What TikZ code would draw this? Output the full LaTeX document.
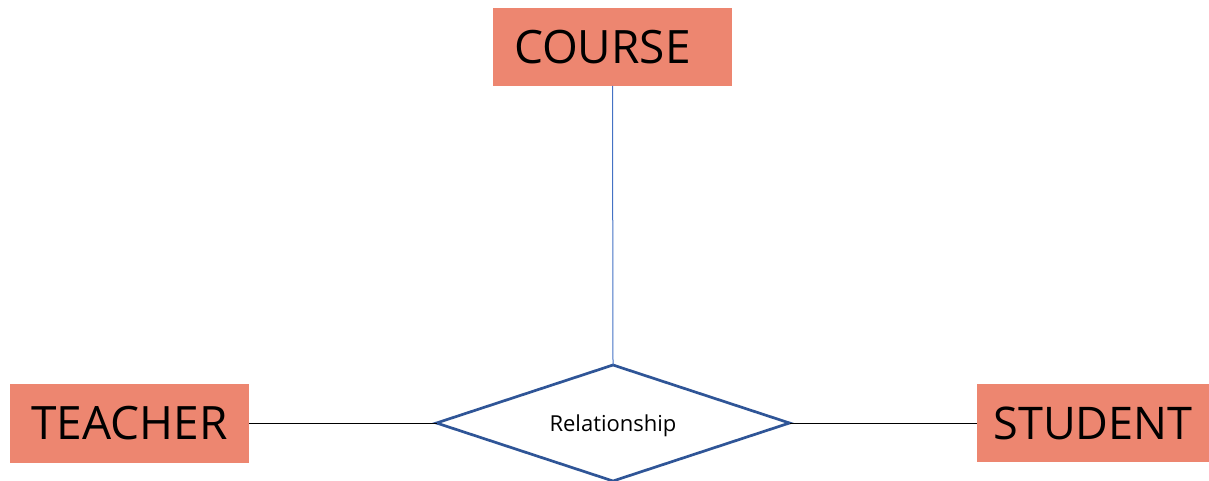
\documentclass[tikz,border=0pt]{standalone}
\usepackage{fontspec}
\setmainfont{Open Sans}
\usetikzlibrary{shapes.geometric}
\definecolor{salmon}{HTML}{ED8670}
\definecolor{dblue}{HTML}{2F5597}
\definecolor{lblue}{HTML}{4472C4}
\tikzset{
  entity/.style={fill=salmon, draw=none, inner sep=0pt, outer sep=0pt, font=\fontsize{46}{50}\selectfont},
  rel/.style={diamond, aspect=3.04, draw=dblue, line width=2.7pt, fill=white, inner sep=0pt, outer sep=0pt,
    minimum width=353pt, minimum height=116pt, text depth=0pt, font=\fontsize{22}{26}\selectfont},
  link/.style={line width=1pt, draw=black}
}
\begin{document}
\begin{tikzpicture}[x=1pt,y=-1pt]
\useasboundingbox (0,0) rectangle (1209,481);
\clip (0,0) rectangle (1209,481);
\node[entity, minimum width=239pt, minimum height=78pt, text width=197pt, align=left, inner xsep=21pt] (course) at (612.5,47) {COURSE};
\node[entity, minimum width=239pt, minimum height=79pt] (teacher) at (129.5,423) {TEACHER};
\node[entity, minimum width=232pt, minimum height=78pt, font=\fontsize{45}{50}\selectfont] (student) at (1093,423) {STUDENT};
\node[rel] (rel) at (613,423) {Relationship};
\draw[line width=1pt, draw=lblue] (course.south) -- (rel.north);
\draw[link] (teacher.east) -- (rel.west);
\draw[link] (rel.east) -- (student.west);
\end{tikzpicture}
\end{document}
